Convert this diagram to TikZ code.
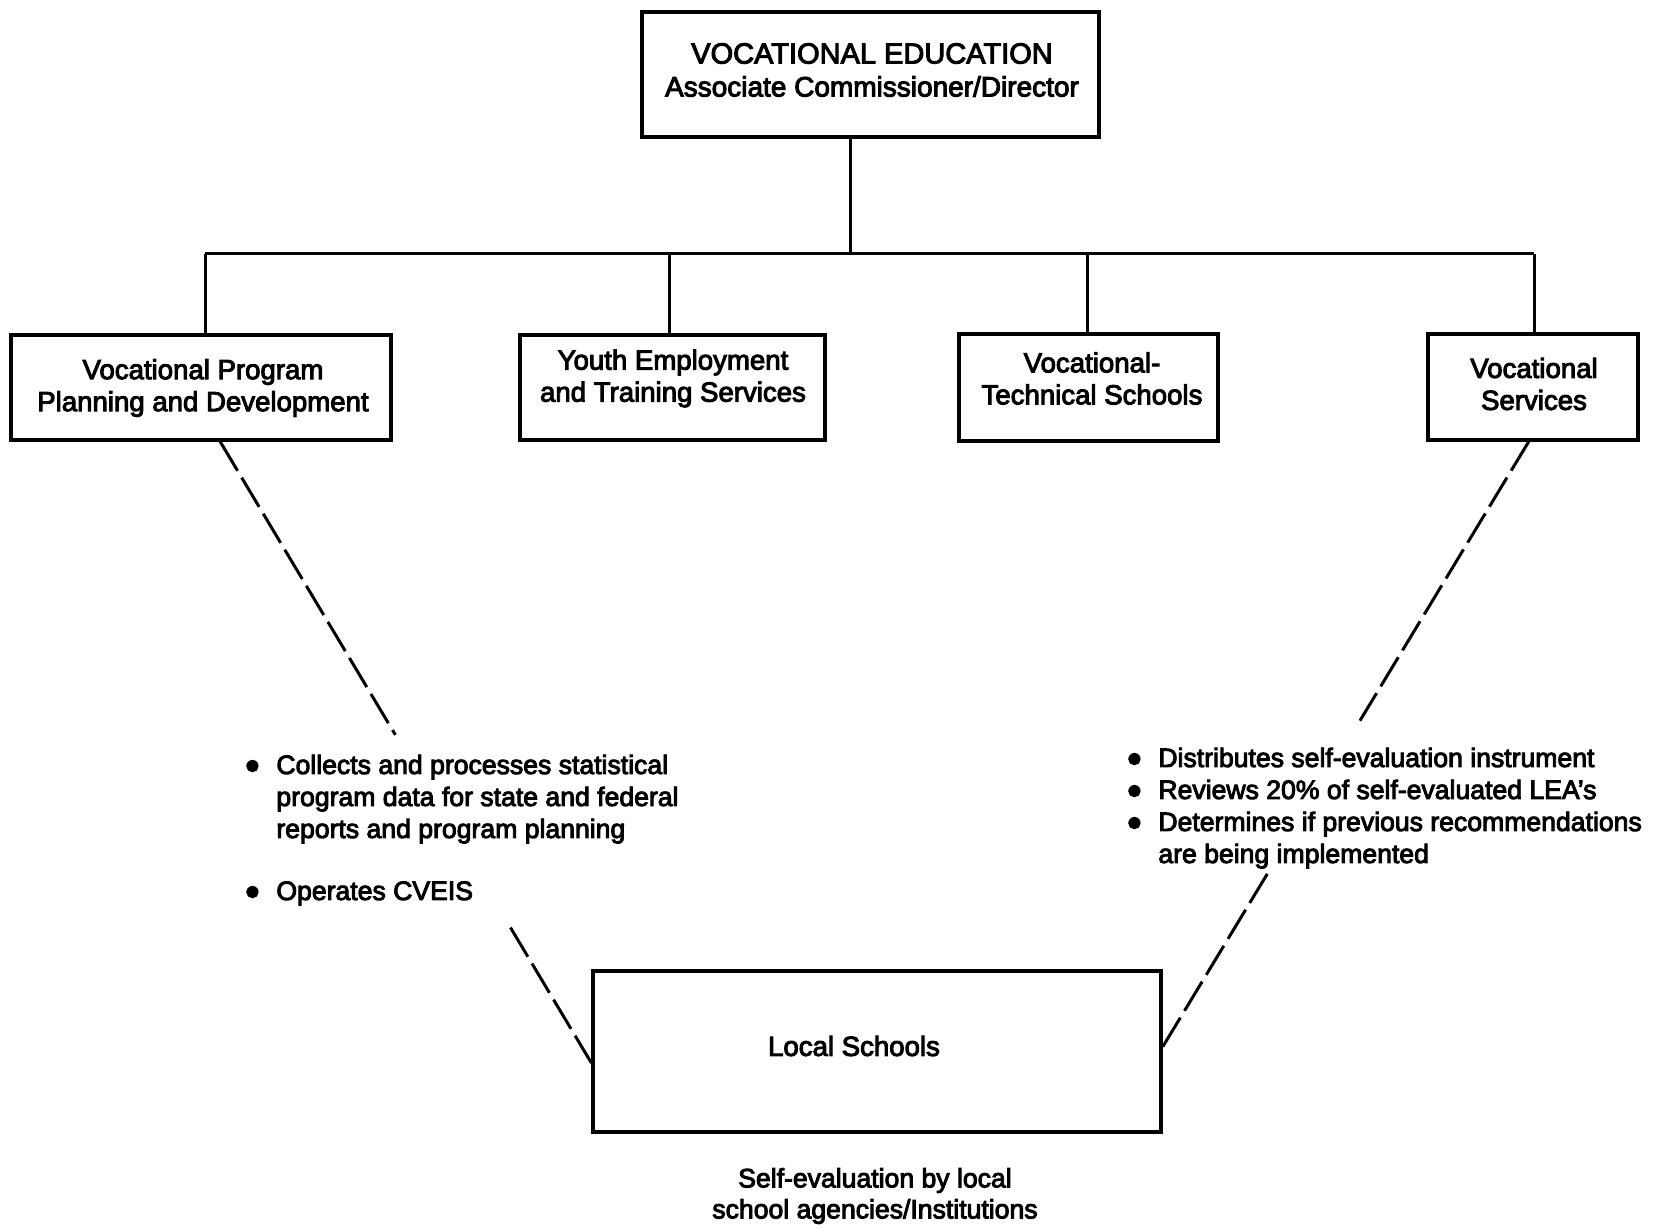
\documentclass[tikz,border=0pt]{standalone}
\usepackage{fontspec}
\setmainfont{Liberation Sans}[FakeBold=3.5]
\usetikzlibrary{calc}
\newcommand{\dotmark}{\makebox[16pt][l]{\raisebox{0.2pt}{●}}}
\begin{document}
\begin{tikzpicture}[x=0.5pt,y=-0.5pt,
  unitbox/.style={draw,line width=1.6pt,inner sep=0pt},
  unittext/.style={align=center,inner sep=0pt,font=\fontsize{13.8}{16}\selectfont},
  conn/.style={line width=1.5pt},
  dashconn/.style={line width=1.5pt,dash pattern=on 17pt off 4pt},
  bullets/.style={anchor=base west,inner sep=0pt,font=\fontsize{13.3}{16}\selectfont}]
\useasboundingbox (0,0) rectangle (1667,1229);

% head office
\node[unitbox,minimum width=228.5pt,minimum height=62.5pt] (top) at (870.5,74.5) {};
\node[align=center,inner sep=0pt,font=\fontsize{14.5}{16.5}\selectfont] (toptext) at (872,70)
  {VOCATIONAL EDUCATION\\
   {\fontsize{14}{16.5}\selectfont Associate Commissioner/Director}};

% divisions
\node[unitbox,minimum width=190pt,minimum height=52.5pt] (vpd) at (201,387.5) {};
\node[unittext] (vpdtext) at (203,388) {Vocational Program\\Planning and Development};
\node[unitbox,minimum width=152.5pt,minimum height=52.5pt] (yets) at (672.5,387.5) {};
\node[unittext] (yetstext) at (673,378.5) {Youth Employment\\and Training Services};
\node[unitbox,minimum width=129.5pt,minimum height=53.5pt] (vts) at (1088.5,387.5) {};
\node[unittext] (vtstext) at (1092,378.5) {Vocational-\\Technical Schools};
\node[unitbox,minimum width=105pt,minimum height=53pt] (vs) at (1533,387) {};
\node[unittext] (vstext) at (1534,384) {Vocational\\Services};

% local level
\node[unitbox,minimum width=284pt,minimum height=80.5pt] (local) at (877,1051.5) {};
\node[unittext] (localtext) at (854,1046) {Local Schools};
\node[unittext,font=\fontsize{13.3}{15.5}\selectfont] (caption) at (875,1196)
  {Self-evaluation by local\\school agencies/Institutions};

% solid tree
\coordinate (hub) at (850,254);
\coordinate (d1) at (205,254);
\coordinate (d2) at (669,254);
\coordinate (d3) at (1087,254);
\coordinate (d4) at (1534,254);
\draw[conn] (hub |- top.south) -- (hub);
\draw[conn] (d1) -- (d4);
\draw[conn] (d1) -- (d1 |- vpd.north);
\draw[conn] (d2) -- (d2 |- yets.north);
\draw[conn] (d3) -- (d3 |- vts.north);
\draw[conn] (d4) -- (d4 |- vs.north);

% responsibilities
\node[bullets] (leftlist) at (244,774) {%
  \begin{tabular}[t]{@{}l@{}l@{}}
  \dotmark & Collects and processes statistical\\
   & program data for state and federal\\
   & reports and program planning\\[15pt]
  \dotmark & Operates CVEIS
  \end{tabular}};
\node[bullets] (rightlist) at (1126,767) {%
  \begin{tabular}[t]{@{}l@{}l@{}}
  \dotmark & Distributes self-evaluation instrument\\
  \dotmark & Reviews 20\% of self-evaluated LEA’s\\
  \dotmark & Determines if previous recommendations\\
   & are being implemented
  \end{tabular}};

% dashed links, broken around the lists
\coordinate (la) at ($(vpd.south west)!0.55!(vpd.south east)$);
\coordinate (lb) at ($(local.west)+(0,11.5)$);
\coordinate (ra) at ($(vs.south west)!0.48!(vs.south east)$);
\coordinate (rb) at ($(local.east)+(0,-4.5)$);
\draw[dashconn] (la) -- ($(la)!0.472!(lb)$) ($(la)!0.782!(lb)$) -- (lb);
\draw[dashconn] (ra) -- ($(ra)!0.461!(rb)$) ($(ra)!0.714!(rb)$) -- (rb);
\end{tikzpicture}
\end{document}
